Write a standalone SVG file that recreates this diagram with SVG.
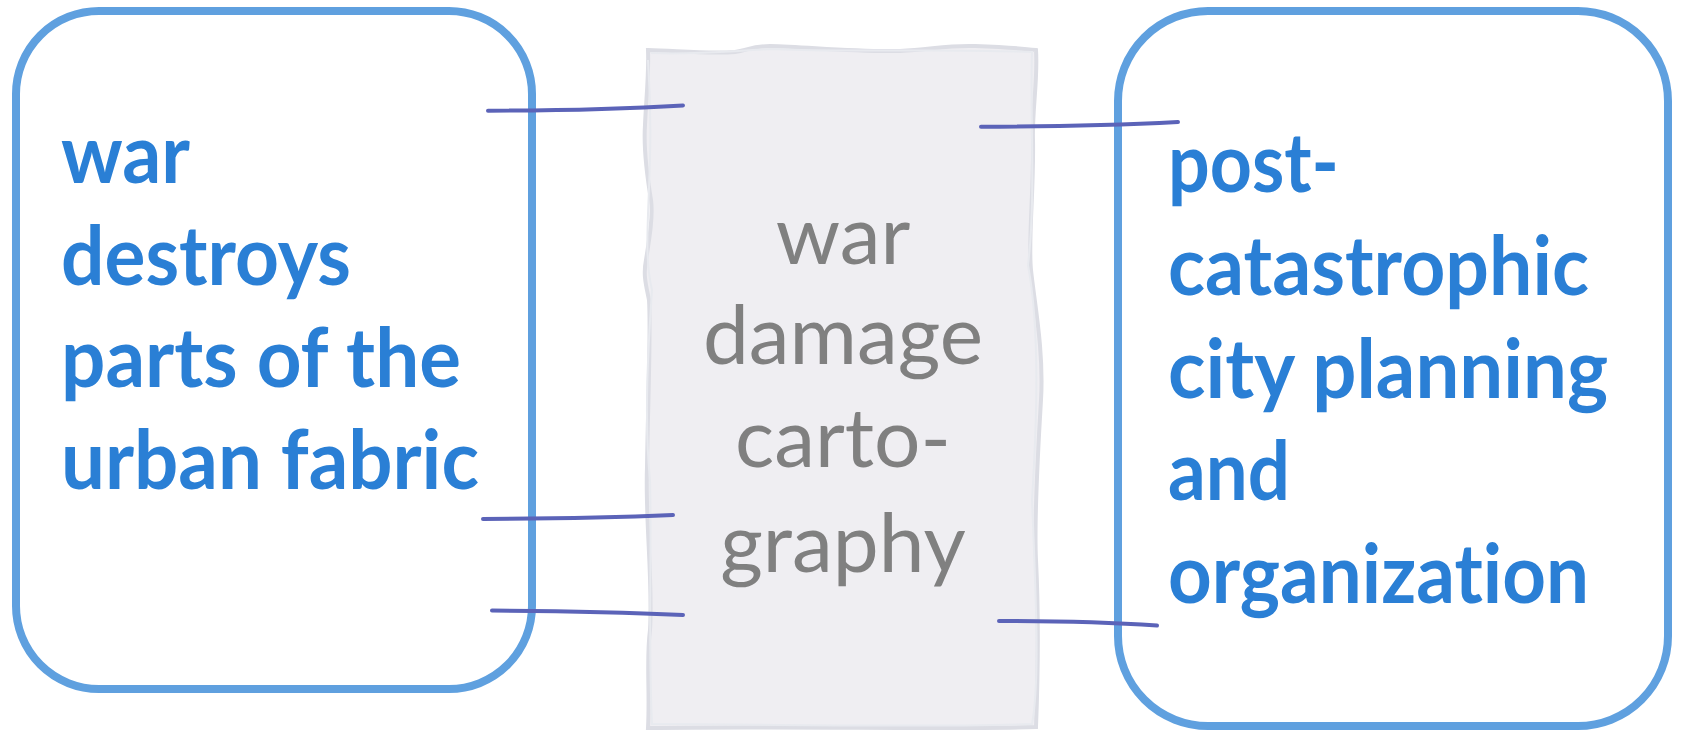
<svg xmlns="http://www.w3.org/2000/svg" width="1681" height="732" viewBox="0 0 1681 732">
<style>
.box{fill:#ffffff;stroke:#5FA0DF;stroke-width:8}
.side{font-family:Lato,"Open Sans",sans-serif;font-weight:700;font-size:82px;fill:#2A7FD5;font-variant-ligatures:none}
.mid{font-family:Lato,"Open Sans",sans-serif;font-weight:400;font-size:82px;fill:#808080;text-anchor:middle;font-variant-ligatures:none}
.conn{fill:none;stroke:#5B63B8;stroke-width:4;stroke-linecap:round}
</style>
<rect width="1681" height="732" fill="#ffffff"/>
<g id="node-left">
<rect class="box" x="16" y="11" width="516" height="678" rx="83" ry="83"/>
<text class="side" x="61" y="183" textLength="129" lengthAdjust="spacingAndGlyphs">war</text>
<text class="side" x="61" y="285" textLength="290" lengthAdjust="spacingAndGlyphs">destroys</text>
<text class="side" x="61" y="387" textLength="400" lengthAdjust="spacingAndGlyphs">parts of the</text>
<text class="side" x="61" y="489" textLength="418" lengthAdjust="spacingAndGlyphs">urban fabric</text>
</g>
<g id="node-middle">
<path d="M648,50 C680,51 710,54 735,52 C748,50 752,46 770,46 C810,47 850,52 900,51 C930,50 945,45 975,46 C1000,47 1020,48 1036,50 C1038,80 1032,110 1033,140 C1034,190 1028,240 1031,270 C1034,300 1044,350 1041,400 C1038,450 1034,520 1036,560 C1038,600 1039,650 1036,727 C950,730 800,726 648,728 C650,690 646,660 650,630 C653,580 645,520 647,467 C648,400 651,330 649,300 C646,285 643,275 646,260 C650,235 653,215 651,200 C646,170 644,140 645,125 C646,100 649,75 648,50 Z" fill="#EFEEF2" stroke="#DCDDE4" stroke-width="4"/>
<path d="M651,53 C700,55 740,50 775,49 C850,53 930,48 1032,52 C1030,120 1036,200 1028,265 C1040,330 1037,420 1032,500 C1036,600 1040,680 1032,724 C900,728 780,724 652,724 C648,640 652,560 650,480 C644,420 648,350 652,290 C640,240 656,180 648,60" fill="none" stroke="#E8EAEF" stroke-width="2"/>
<text class="mid" x="843" y="264">war</text>
<text class="mid" x="843" y="364">damage</text>
<text class="mid" x="843" y="467">carto-</text>
<text class="mid" x="843" y="572">graphy</text>
</g>
<g id="node-right">
<rect class="box" x="1118" y="11" width="550" height="715" rx="90" ry="90"/>
<text class="side" x="1168" y="192" textLength="171" lengthAdjust="spacingAndGlyphs">post-</text>
<text class="side" x="1168" y="295" textLength="421" lengthAdjust="spacingAndGlyphs">catastrophic</text>
<text class="side" x="1168" y="398" textLength="440" lengthAdjust="spacingAndGlyphs">city planning</text>
<text class="side" x="1168" y="500" textLength="122" lengthAdjust="spacingAndGlyphs">and</text>
<text class="side" x="1168" y="603" textLength="421" lengthAdjust="spacingAndGlyphs">organization</text>
</g>
<g id="connectors">
<path class="conn" d="M488,110.7 Q600,110.5 683,105.5"/>
<path class="conn" d="M483,519 Q590,518.5 673,515"/>
<path class="conn" d="M492,610.6 Q600,611 683,615"/>
<path class="conn" d="M981,126.7 Q1090,126.5 1178,122"/>
<path class="conn" d="M999,621 Q1090,621 1157,625.5"/>
</g>
</svg>
